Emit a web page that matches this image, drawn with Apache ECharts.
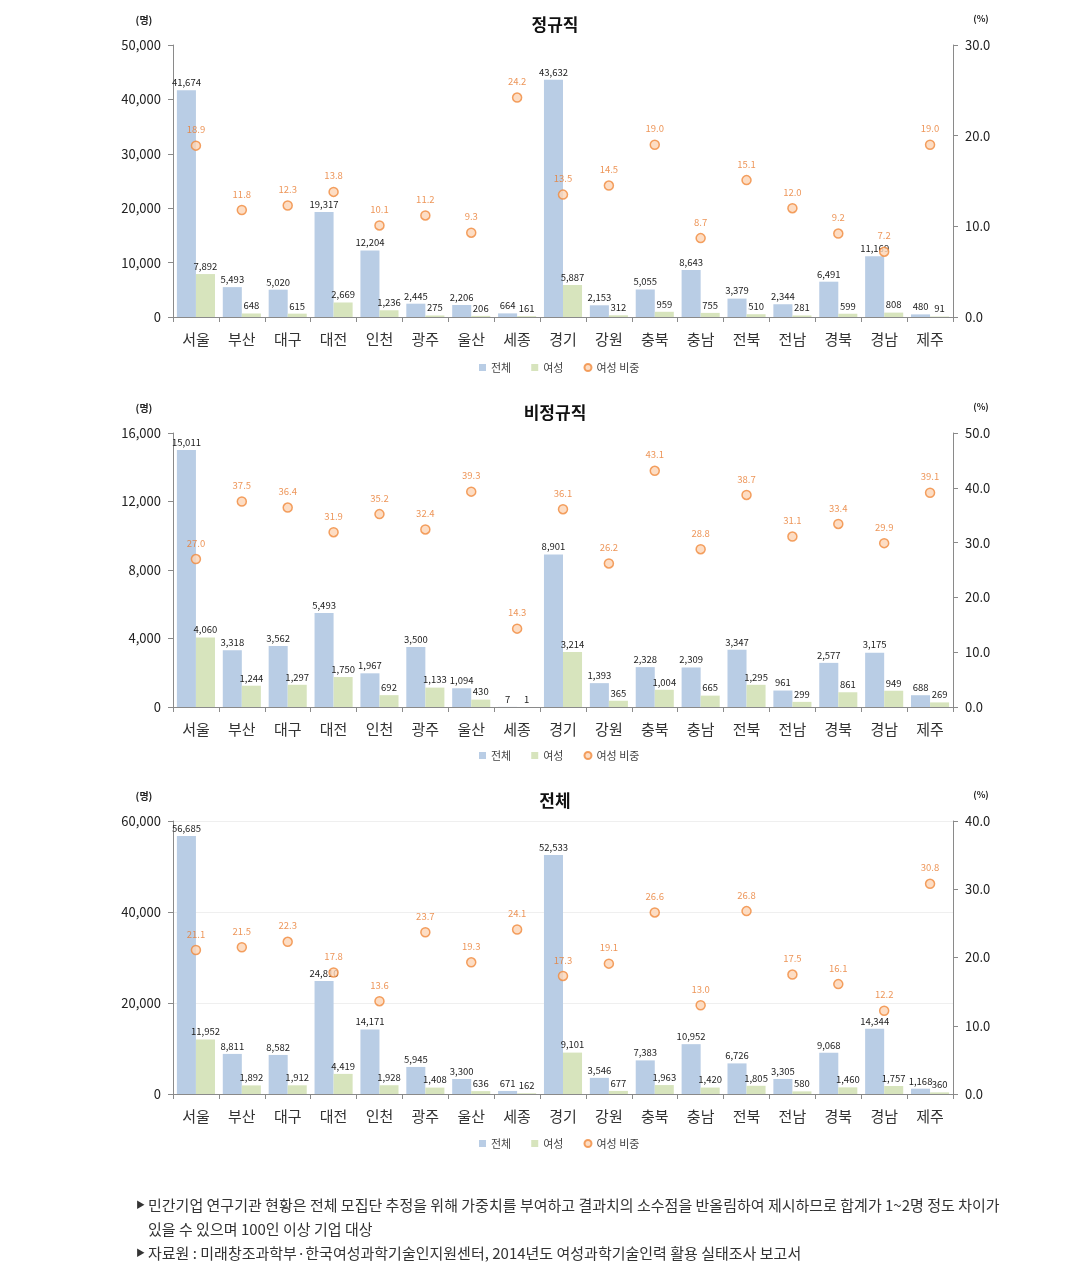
<!DOCTYPE html>
<html><head><meta charset="utf-8">
<script src="https://cdn.jsdelivr.net/npm/echarts@6/dist/echarts.min.js"></script>
<style>html,body{margin:0;padding:0;background:#fff;}#c{width:1069px;height:1279px;}</style>
</head><body><div id="c"></div>
<script>
const categories = ['서울','부산','대구','대전','인천','광주','울산','세종','경기','강원','충북','충남','전북','전남','경북','경남','제주'];

const regTotal = [41674,5493,5020,19317,12204,2445,2206,664,43632,2153,5055,8643,3379,2344,6491,11169,480];
const regFemale = [7892,648,615,2669,1236,275,206,161,5887,312,959,755,510,281,599,808,91];
const regRatio = [18.9,11.8,12.3,13.8,10.1,11.2,9.3,24.2,13.5,14.5,19.0,8.7,15.1,12.0,9.2,7.2,19.0];

const nonTotal = [15011,3318,3562,5493,1967,3500,1094,7,8901,1393,2328,2309,3347,961,2577,3175,688];
const nonFemale = [4060,1244,1297,1750,692,1133,430,1,3214,365,1004,665,1295,299,861,949,269];
const nonRatio = [27.0,37.5,36.4,31.9,35.2,32.4,39.3,14.3,36.1,26.2,43.1,28.8,38.7,31.1,33.4,29.9,39.1];

const allTotal = [56685,8811,8582,24810,14171,5945,3300,671,52533,3546,7383,10952,6726,3305,9068,14344,1168];
const allFemale = [11952,1892,1912,4419,1928,1408,636,162,9101,677,1963,1420,1805,580,1460,1757,360];
const allRatio = [21.1,21.5,22.3,17.8,13.6,23.7,19.3,24.1,17.3,19.1,26.6,13.0,26.8,17.5,16.1,12.2,30.8];

const chartTitles = ['정규직','비정규직','전체'];
const leftMax = [50000,16000,60000];
const leftInterval = [10000,4000,20000];
const rightMax = [30,50,40];
const rightInterval = [10,10,10];
const seriesNames = ['전체','여성','여성 비중'];
const unitLeft = '(명)';
const unitRight = '(%)';
const notes = [
  '민간기업 연구기관 현황은 전체 모집단 추정을 위해 가중치를 부여하고 결과치의 소수점을 반올림하여 제시하므로 합계가 1~2명 정도 차이가',
  '있을 수 있으며 100인 이상 기업 대상',
  '자료원 : 미래창조과학부·한국여성과학기술인지원센터, 2014년도 여성과학기술인력 활용 실태조사 보고서'
];

const datasets = [
  [regTotal, regFemale, regRatio],
  [nonTotal, nonFemale, nonRatio],
  [allTotal, allFemale, allRatio]
];

const FONT = '"Noto Sans CJK KR", "Noto Sans", sans-serif';
const gridTops = [45, 433, 821];
const gridHeights = [272, 274, 273];
const legendTops = [357, 745, 1133];
const AX = '#8a8a8a';
const fmt = v => Number(v).toLocaleString('en-US');

const grids = [], xAxes = [], yAxes = [], series = [], graphics = [], legends = [];
for (let i = 0; i < 3; i++) {
  grids.push({left: 173, right: 116, top: gridTops[i], height: gridHeights[i]});
  xAxes.push({
    type: 'category', gridIndex: i, data: categories,
    axisLine: {lineStyle: {color: AX}},
    axisTick: {show: true, length: 5, lineStyle: {color: AX}},
    axisLabel: {color: '#333', fontSize: 15, fontFamily: FONT, margin: 15}
  });
  yAxes.push({
    type: 'value', gridIndex: i, min: 0, max: leftMax[i], interval: leftInterval[i],
    axisLine: {show: true, lineStyle: {color: AX}},
    axisTick: {show: true, length: 5, lineStyle: {color: AX}},
    splitLine: {show: i === 2, lineStyle: {color: '#efefef'}},
    axisLabel: {color: '#222', fontSize: 13, fontFamily: FONT, margin: 12, formatter: fmt}
  });
  yAxes.push({
    type: 'value', gridIndex: i, position: 'right', min: 0, max: rightMax[i], interval: rightInterval[i],
    axisLine: {show: true, lineStyle: {color: AX}},
    axisTick: {show: true, length: 5, lineStyle: {color: AX}},
    splitLine: {show: false},
    axisLabel: {color: '#222', fontSize: 13, fontFamily: FONT, margin: 12, formatter: v => v.toFixed(1)}
  });
  const d = datasets[i];
  series.push({
    name: seriesNames[0], type: 'bar', xAxisIndex: i, yAxisIndex: i * 2, data: d[0],
    barGap: '0%', barCategoryGap: '17%',
    itemStyle: {color: '#B9CDE5'},
    label: {show: true, position: 'top', distance: 3, color: '#222', fontSize: 9.5, fontFamily: FONT, formatter: p => fmt(p.value)}
  });
  series.push({
    name: seriesNames[1], type: 'bar', xAxisIndex: i, yAxisIndex: i * 2, data: d[1],
    barGap: '0%', barCategoryGap: '17%',
    itemStyle: {color: '#D7E4BD'},
    label: {show: true, position: 'top', distance: 3, color: '#222', fontSize: 9.5, fontFamily: FONT, formatter: p => fmt(p.value)}
  });
  series.push({
    name: seriesNames[2], type: 'scatter', xAxisIndex: i, yAxisIndex: i * 2 + 1, data: d[2],
    symbol: 'circle', symbolSize: 9, z: 5,
    itemStyle: {color: '#FCD5B5', borderColor: '#F08A3C', borderWidth: 1.5},
    label: {show: true, position: 'top', distance: 6, color: '#E97B2E', fontSize: 9.5, fontFamily: FONT, formatter: p => p.value.toFixed(1)}
  });
  const top = gridTops[i];
  graphics.push({type: 'text', x: 555, y: top - 20, style: {text: chartTitles[i], font: 'bold 17px ' + FONT, fill: '#111', textAlign: 'center', textVerticalAlign: 'middle'}});
  graphics.push({type: 'text', x: 144, y: top - 25, style: {text: unitLeft, font: 'bold 10px ' + FONT, fill: '#222', textAlign: 'center', textVerticalAlign: 'middle'}});
  graphics.push({type: 'text', x: 981, y: top - 26, style: {text: unitRight, font: 'bold 9px ' + FONT, fill: '#222', textAlign: 'center', textVerticalAlign: 'middle'}});
  legends.push({
    left: 474, top: legendTops[i],
    itemWidth: 7, itemHeight: 7, itemGap: 20,
    textStyle: {color: '#444', fontSize: 11, fontFamily: FONT},
    data: [{name: seriesNames[0], icon: 'rect'}, {name: seriesNames[1], icon: 'rect'}, {name: seriesNames[2], icon: 'circle'}],
    selectedMode: false
  });
}

const noteY = [1205, 1229, 1253];
const bullets = [true, false, true];
notes.forEach((t, k) => {
  if (bullets[k]) graphics.push({type: 'text', x: 136, y: noteY[k], style: {text: '▶', font: '9px ' + FONT, fill: '#333', textVerticalAlign: 'middle'}});
  graphics.push({type: 'text', x: 148, y: noteY[k], style: {text: t, font: '15px ' + FONT, fill: '#333', textVerticalAlign: 'middle'}});
});

const chart = echarts.init(document.getElementById('c'));
chart.setOption({
  animation: false,
  backgroundColor: '#fff',
  grid: grids, xAxis: xAxes, yAxis: yAxes, series: series,
  legend: legends, graphic: graphics
});
</script></body></html>
